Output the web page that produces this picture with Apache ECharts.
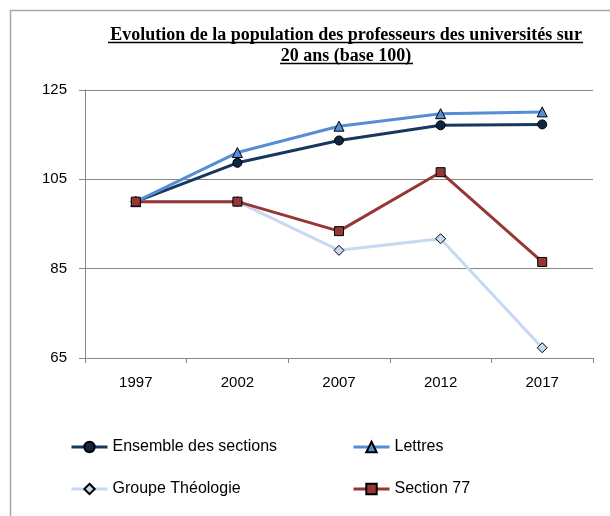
<!DOCTYPE html>
<html>
<head>
<meta charset="utf-8">
<script src="https://cdn.jsdelivr.net/npm/echarts@6/dist/echarts.min.js"></script>
<style>
  html, body { margin: 0; padding: 0; background: #fff; }
  #main { width: 610px; height: 516px; }
</style>
</head>
<body>
<div id="main"></div>
<script>
// années (axe x)
var years = ['1997', '2002', '2007', '2012', '2017'];

// base 100 en 1997
var ensemble = [100, 108.7, 113.7, 117.1, 117.3];
var lettres = [100, 111.0, 116.9, 119.7, 120.1];
var theologie = [100, 100, 89.1, 91.7, 67.3];
var section77 = [100, 100, 93.4, 106.6, 86.5];

var seriesNames = ['Ensemble des sections', 'Lettres', 'Groupe Théologie', 'Section 77'];

var chart = echarts.init(document.getElementById('main'));

function lineSerie(name, data, color, markerColor, symbol, size) {
  return {
    name: name,
    type: 'line',
    data: data,
    symbol: symbol,
    symbolSize: size,
    lineStyle: { color: color, width: 3 },
    itemStyle: { color: markerColor, borderColor: '#000', borderWidth: 1 },
    emphasis: { disabled: true },
    animation: false
  };
}

// une légende par entrée, pour caler les colonnes comme dans Excel
var legendPos = [
  { left: 70, top: 439 },
  { left: 352, top: 439 },
  { left: 70, top: 481 },
  { left: 352, top: 481 }
];

var option = {
  backgroundColor: '#ffffff',
  title: {
    text: 'Evolution de la population des professeurs des universités sur\n20 ans (base 100)',
    left: 346,
    top: 25,
    padding: 0,
    textAlign: 'center',
    textStyle: {
      fontFamily: 'Liberation Serif',
      fontWeight: 'bold',
      fontSize: 18,
      lineHeight: 21,
      color: '#000'
    }
  },
  legend: seriesNames.map(function (n, i) {
    return {
      data: [n],
      left: legendPos[i].left,
      top: legendPos[i].top,
      padding: 0,
      itemWidth: 36,
      itemHeight: 13,
      lineStyle: { width: 3 },
      selectedMode: false,
      textStyle: { fontFamily: 'Liberation Sans', fontSize: 16, color: '#000' }
    };
  }),
  grid: {
    left: 85,
    right: 17,
    top: 90,
    bottom: 158
  },
  xAxis: {
    type: 'category',
    data: years,
    boundaryGap: true,
    axisLine: { lineStyle: { color: '#868686', width: 1 } },
    axisTick: { show: true, length: 5, lineStyle: { color: '#868686' } },
    axisLabel: { fontFamily: 'Liberation Sans', fontSize: 15, color: '#000', margin: 17 },
    splitLine: { show: false }
  },
  yAxis: {
    type: 'value',
    min: 65,
    max: 125,
    interval: 20,
    axisLine: { show: true, lineStyle: { color: '#868686', width: 1 } },
    axisTick: { show: true, length: 6, lineStyle: { color: '#868686' } },
    axisLabel: { fontFamily: 'Liberation Sans', fontSize: 15, color: '#000', margin: 18 },
    splitLine: { show: true, lineStyle: { color: '#868686', width: 1 } }
  },
  graphic: [
    {
      type: 'rect',
      shape: { x: 10.5, y: 10.5, width: 700, height: 700 },
      style: { fill: 'none', stroke: '#a6a6a6', lineWidth: 1.5 },
      z: -10
    },
    {
      type: 'line',
      shape: { x1: 108, y1: 42.5, x2: 583, y2: 42.5 },
      style: { stroke: '#000', lineWidth: 1.3 }
    },
    {
      type: 'line',
      shape: { x1: 280, y1: 63.5, x2: 413, y2: 63.5 },
      style: { stroke: '#000', lineWidth: 1.3 }
    }
  ],
  series: [
    lineSerie(seriesNames[0], ensemble, '#17375E', '#10253F', 'circle', 9),
    lineSerie(seriesNames[1], lettres, '#558ED5', '#558ED5', 'triangle', 10),
    lineSerie(seriesNames[2], theologie, '#C6D9F1', '#C6D9F1', 'diamond', 10),
    lineSerie(seriesNames[3], section77, '#953735', '#953735', 'rect', 9)
  ]
};

chart.setOption(option);
</script>
</body>
</html>
